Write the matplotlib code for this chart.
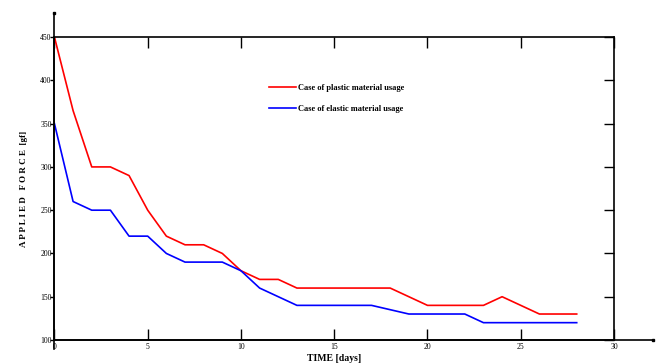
import matplotlib
matplotlib.use("Agg")
import matplotlib.pyplot as plt

days_plastic = [0, 1, 2, 3, 4, 5, 6, 7, 8, 9, 10, 11, 12, 13, 18, 19, 20, 23, 24, 25, 26, 28]
force_plastic = [450, 365, 300, 300, 290, 250, 220, 210, 210, 200, 180, 170, 170, 160, 160, 150, 140, 140, 150, 140, 130, 130]

days_elastic = [0, 1, 2, 3, 4, 5, 6, 7, 9, 10, 11, 12, 13, 17, 18, 19, 22, 23, 28]
force_elastic = [350, 260, 250, 250, 220, 220, 200, 190, 190, 180, 160, 150, 140, 140, 135, 130, 130, 120, 120]

x_ticks = [0, 5, 10, 15, 20, 25, 30]
y_ticks = [100, 150, 200, 250, 300, 350, 400, 450]
label_plastic = "Case of plastic material usage"
label_elastic = "Case of elastic material usage"

fig = plt.figure(figsize=(6.56, 3.64), dpi=100)
ax = fig.add_axes([0.083, 0.066, 0.853, 0.832])
font = "Liberation Serif"

ax.plot(days_plastic, force_plastic, color="#ff0000", lw=1.2, label=label_plastic)
ax.plot(days_elastic, force_elastic, color="#0000ff", lw=1.2, label=label_elastic)

ax.set_xlim(0, 30)
ax.set_ylim(100, 450)
ax.set_xticks(x_ticks)
ax.set_yticks(y_ticks)
ax.set_xticklabels([str(v) for v in x_ticks], fontsize=5.5, family=font)
ax.set_yticklabels([str(v) for v in y_ticks], fontsize=5.5, family=font)
ax.tick_params(axis="x", direction="in", length=8, width=1, top=True, pad=2)
ax.tick_params(axis="y", direction="in", length=7, width=1, right=True, pad=2)
for t in ax.yaxis.get_major_ticks():
    t.tick1line.set_markersize(3)
    t.tick1line.set_marker(0)
for sp in ax.spines.values():
    sp.set_linewidth(1.2)

# extended axis lines
ax.plot([0, 0], [-0.03, 1.08], transform=ax.transAxes, color="black", lw=1.2, clip_on=False)
ax.plot([0, 1.07], [0, 0], transform=ax.transAxes, color="black", lw=1.2, clip_on=False)
ax.plot([0], [1.08], transform=ax.transAxes, marker="s", ms=2, color="black", clip_on=False)
ax.plot([1.07], [0], transform=ax.transAxes, marker="s", ms=2, color="black", clip_on=False)

ax.set_xlabel("TIME [days]", fontsize=7, family=font, fontweight="bold", labelpad=2)
ax.set_ylabel("A P P L I E D   F O R C E  [gf]", fontsize=6.5, family=font, fontweight="bold", labelpad=9)

leg = ax.legend(loc="upper left", bbox_to_anchor=(0.37, 0.87), frameon=False,
                prop={"family": font, "size": 6, "weight": "bold"},
                handlelength=3.2, labelspacing=1.6, handletextpad=0.3)

fig.savefig("out.png", dpi=100)
